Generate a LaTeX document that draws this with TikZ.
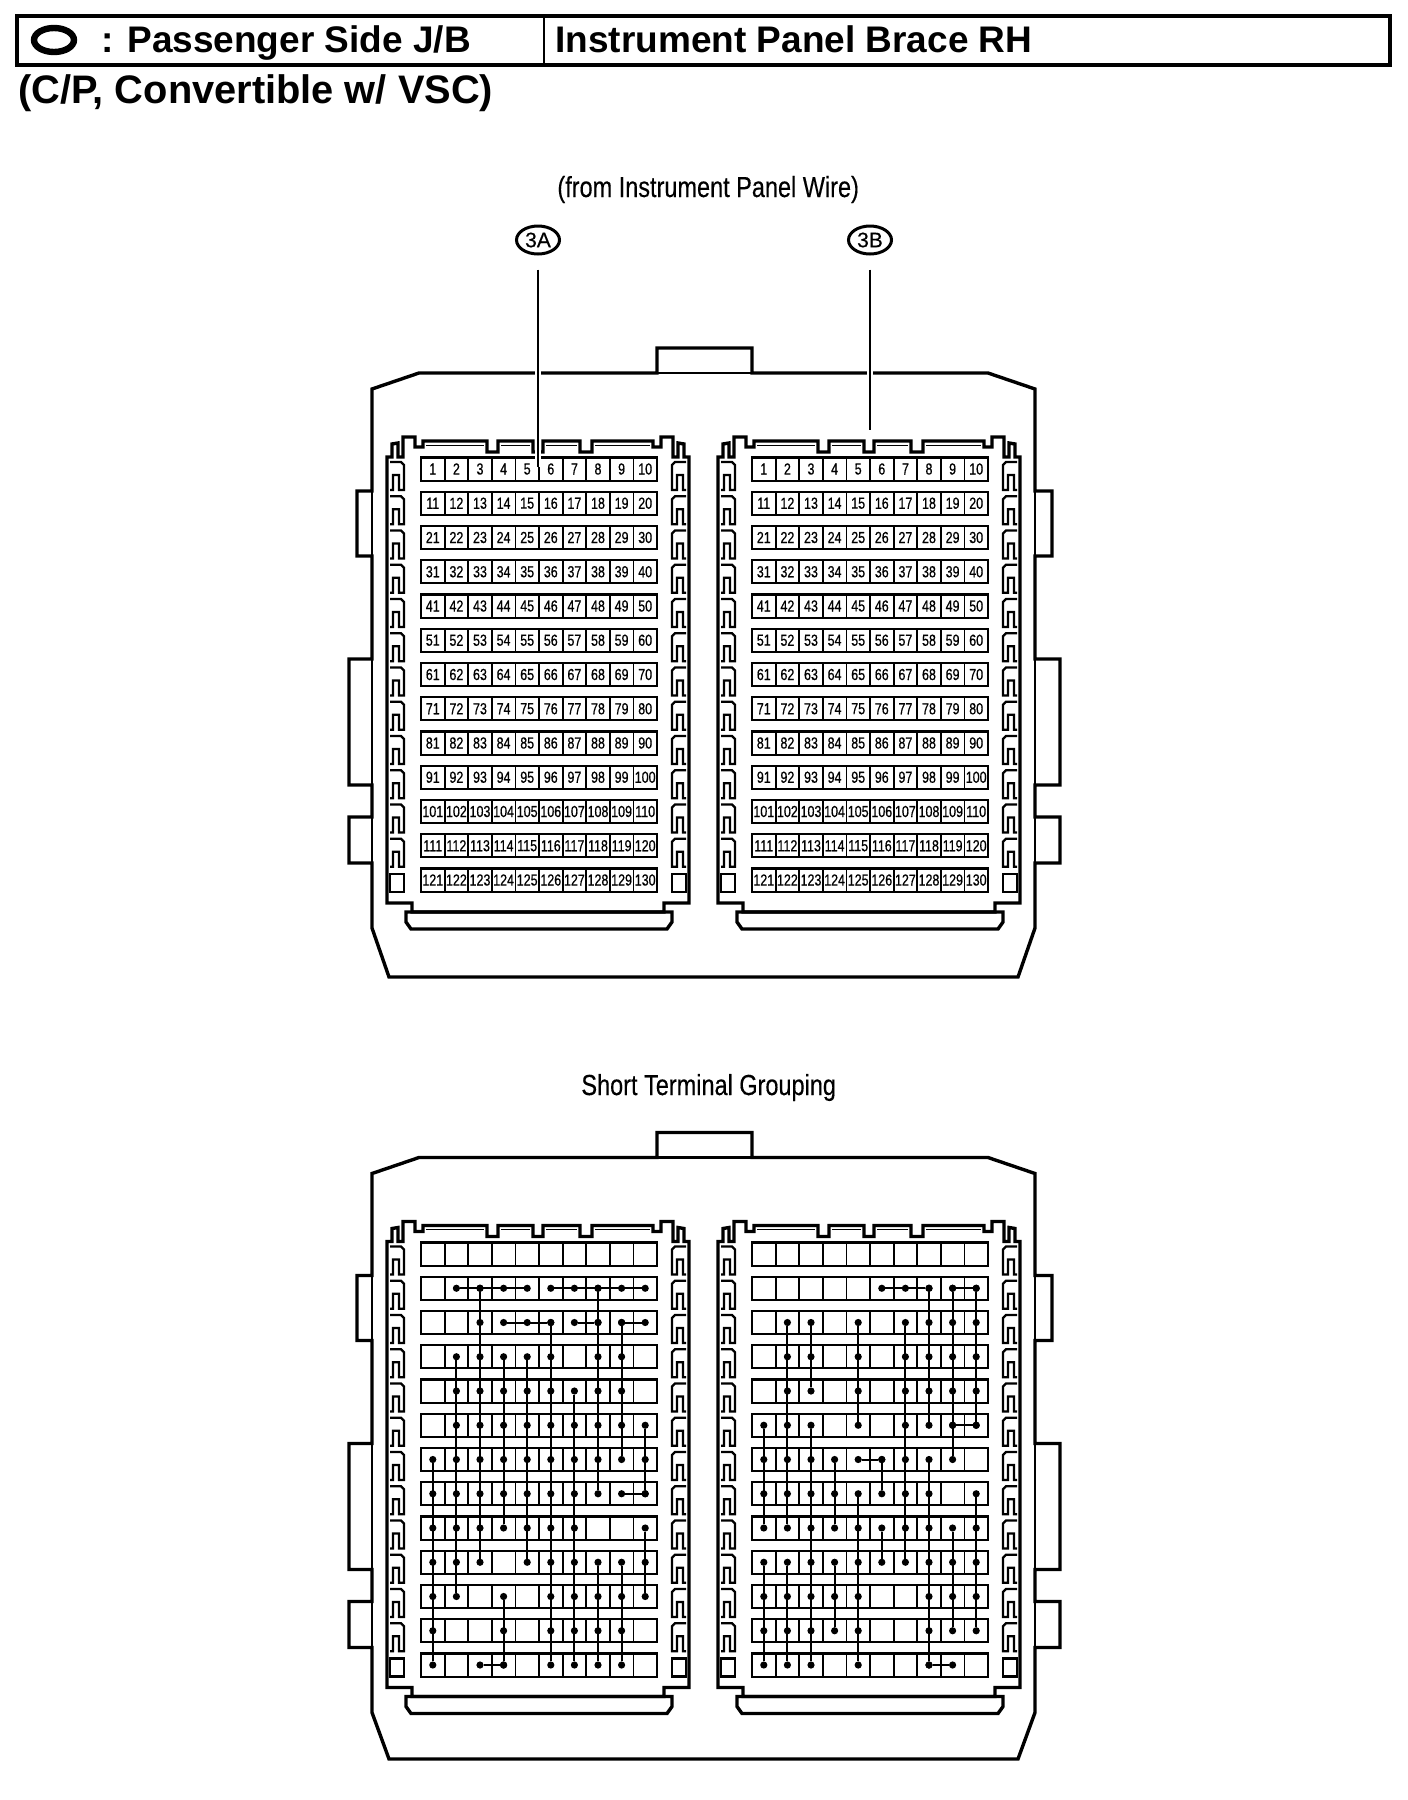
\documentclass[tikz,border=0pt]{standalone}
\usepackage{fontspec}
\setmainfont{Liberation Sans}
\newfontfamily\cellfont[FakeStretch=0.78,FakeBold=0.6]{Liberation Sans}
\newfontfamily\notefont[FakeStretch=0.81,FakeBold=0.3]{Liberation Sans}
\newfontfamily\tagfont[FakeBold=0.4]{Liberation Sans}
\usetikzlibrary{shapes}

\begin{document}
\begin{tikzpicture}[x=0.5pt,y=-0.5pt,line join=miter]
\tikzstyle{hdr}=[font=\bfseries\fontsize{18.5}{20}\selectfont,inner sep=0pt,anchor=base west]
\tikzstyle{note}=[font=\notefont\fontsize{14.5}{16}\selectfont,inner sep=0pt,anchor=base west]
\tikzstyle{heavy}=[line width=1.7pt]
\tikzstyle{medium}=[line width=1.15pt]
\tikzstyle{faint}=[line width=0.4pt]
\tikzstyle{cell}=[draw,line width=0.9pt,minimum width=11.8pt,minimum height=11.6pt,inner sep=0pt,outer sep=0pt,font=\cellfont\fontsize{8}{8}\selectfont]
\tikzstyle{rowline}=[line width=1.1pt]
\tikzstyle{pin}=[circle,fill=black,minimum size=3.6pt,inner sep=0pt,outer sep=0pt]
\tikzstyle{wire}=[line width=1pt]
\tikzstyle{tag}=[draw,ellipse,line width=1.5pt,minimum width=21.5pt,minimum height=14pt,inner sep=0pt,font=\tagfont\fontsize{10.5}{11}\selectfont]
\tikzstyle{leader}=[line width=1pt,shorten <=7pt,preaction={draw=white,line width=3pt}]
\useasboundingbox (0,0) rectangle (1408,1800);

\draw[line width=2pt] (17,16) rectangle (1390,65);
\draw[line width=1.3pt] (544,16) -- (544,65);
\draw[line width=3.2pt] (54,40) ellipse (20 and 12);
\node[hdr] (pside) at (101,52) {: Passenger Side J/B};
\node[hdr] (brace) at (555,52) {Instrument Panel Brace RH};
\node[hdr,font=\bfseries\fontsize{19.9}{21}\selectfont] (variant) at (18,103) {(C/P, Convertible w/ VSC)};
\node[note] (fromwire) at (557,197) {(from Instrument Panel Wire)};
\node[note] (grouping) at (581,1095) {Short Terminal Grouping};
\node[tag] (t3A) at (538,240) {3A};
\node[tag] (t3B) at (870,240) {3B};
\coordinate (e3A) at (538,467);
\coordinate (e3B) at (870,430);

\foreach \yo/\yb in {0/977,784.5/974.5}{
\begin{scope}[shift={(0,\yo)}]
\draw[heavy] (419,373) -- (657,373) -- (657,348) -- (752,348) -- (752,373) -- (988,373) -- (1035,389)
  -- (1035,491) -- (1052,491) -- (1052,556) -- (1035,556) -- (1035,659) -- (1060,659) -- (1060,785) -- (1035,785)
  -- (1035,817) -- (1060,817) -- (1060,863) -- (1035,863) -- (1035,928) -- (1018,\yb) -- (389,\yb) -- (372,928)
  -- (372,863) -- (349,863) -- (349,817) -- (372,817) -- (372,785) -- (349,785) -- (349,659) -- (372,659)
  -- (372,556) -- (357,556) -- (357,491) -- (372,491) -- (372,389) -- cycle;
\draw[medium] (657,373) -- (752,373);
\draw[medium] (372,491) -- (372,556) (372,659) -- (372,785) (372,817) -- (372,863)
  (1035,491) -- (1035,556) (1035,659) -- (1035,785) (1035,817) -- (1035,863);
\foreach \xo in {0,331}{
\begin{scope}[shift={(\xo,0)}]
\draw[heavy] (387,457) -- (392,457) -- (392,444) -- (398,443) -- (398,457) -- (403,457) -- (403,437) -- (415,437)
  -- (415,447) -- (423,447) -- (423,441) -- (487,441) -- (487,452) -- (498,452) -- (498,441) -- (533,441)
  -- (533,452) -- (543,452) -- (543,441) -- (580,441) -- (580,452) -- (592,452) -- (592,441) -- (653,441)
  -- (653,447) -- (661,447) -- (661,437) -- (673,437) -- (673,457) -- (678,457) -- (678,443) -- (684,444)
  -- (684,457) -- (689,457) -- (689,903) -- (664,903) -- (664,912) -- (412,912) -- (412,903) -- (387,903) -- cycle;
\draw[faint] (426,445) -- (484,445) (501,445) -- (530,445) (546,445) -- (577,445) (595,445) -- (650,445);
\draw[heavy] (406,912) -- (406,922) -- (411,929) -- (667,929) -- (672,922) -- (672,912) -- cycle;
\foreach \mx/\sx in {0/1,1076/-1}{
\begin{scope}[shift={(\mx,0)},xscale=\sx]
\foreach \row in {0,...,11}
  \draw[medium,shift={(0,{34.25*\row})}] (390,462) -- (401,462) -- (404,465) -- (404,490) -- (399,490) -- (399,475) -- (393,475) -- (393,490) -- (390,490);
\draw[medium] (390,874) rectangle (404,892);
\end{scope}}
\end{scope}}
\end{scope}}

\foreach \xo/\nm in {0/A,331/B}
\foreach \row in {1,...,13}{
  \foreach \col in {1,...,10}{
    \pgfmathtruncatemacro\num{10*(\row-1)+\col}
    \node[cell] (\nm\num) at ({421+23.6*(\col-0.5)+\xo},{469+34.25*(\row-1)}) {\num};
  }
  \pgfmathtruncatemacro\first{10*(\row-1)+1}
  \pgfmathtruncatemacro\last{10*\row}
  \draw[rowline] (\nm\first.north west) rectangle (\nm\last.south east);
}

\foreach \xo/\nm in {0/C,331/D}
\foreach \row in {1,...,13}{
  \foreach \col in {1,...,10}{
    \pgfmathtruncatemacro\num{10*(\row-1)+\col}
    \node[cell] (\nm\num) at ({421+23.6*(\col-0.5)+\xo},{1254+34.25*(\row-1)}) {};
  }
  \pgfmathtruncatemacro\first{10*(\row-1)+1}
  \pgfmathtruncatemacro\last{10*\row}
  \draw[rowline] (\nm\first.north west) rectangle (\nm\last.south east);
}

\foreach \nm/\col/\ra/\rb in {C/1/7/13,C/2/4/11,C/3/2/10,C/4/4/9,C/4/11/13,C/5/4/10,C/6/3/13,C/7/5/13,C/8/2/8,C/8/10/13,C/9/3/7,C/9/10/13,C/10/6/8,C/10/9/11,
  D/1/6/9,D/1/10/13,D/2/3/9,D/2/10/13,D/3/3/5,D/3/6/13,D/4/7/9,D/4/10/12,D/5/3/6,D/5/8/13,D/6/7/8,D/6/9/10,D/7/3/10,D/8/2/6,D/8/7/13,D/9/2/7,D/9/9/12,D/10/2/6,D/10/8/12}{
  \foreach \row in {\ra,...,\rb}{
    \pgfmathtruncatemacro\num{10*(\row-1)+\col}
    \node[pin] (p\nm\num) at (\nm\num) {};
  }
  \pgfmathtruncatemacro\na{10*(\ra-1)+\col}
  \pgfmathtruncatemacro\nb{10*(\rb-1)+\col}
  \path (p\nm\na) edge[wire] (p\nm\nb);
}
\foreach \nm/\row/\ca/\cb in {C/2/2/5,C/2/6/10,C/3/4/6,C/3/7/8,C/3/9/10,C/8/9/10,C/13/3/4,
  D/2/6/8,D/2/9/10,D/6/9/10,D/7/5/6,D/13/8/9}{
  \foreach \col in {\ca,...,\cb}{
    \pgfmathtruncatemacro\num{10*(\row-1)+\col}
    \node[pin] (p\nm\num) at (\nm\num) {};
  }
  \pgfmathtruncatemacro\na{10*(\row-1)+\ca}
  \pgfmathtruncatemacro\nb{10*(\row-1)+\cb}
  \path (p\nm\na) edge[wire] (p\nm\nb);
}

\path (t3A) edge[leader] (e3A)
      (t3B) edge[leader] (e3B);
\end{tikzpicture}
\end{document}
